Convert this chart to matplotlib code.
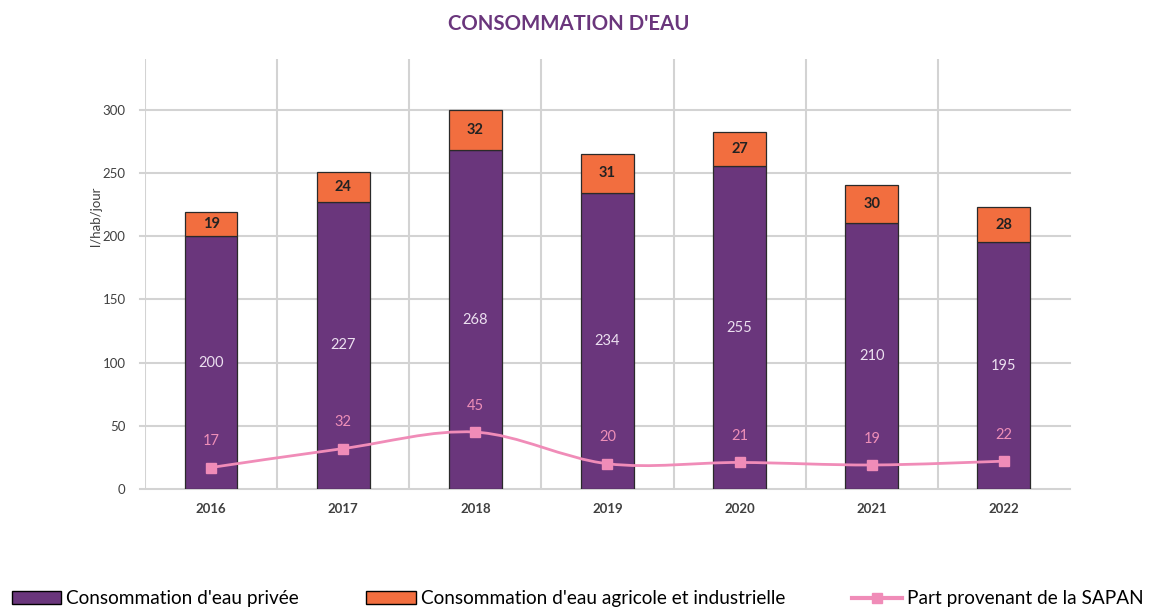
import numpy as np
import matplotlib

matplotlib.use("Agg")
import matplotlib.pyplot as plt
from matplotlib.path import Path
from matplotlib.patches import PathPatch
from matplotlib.lines import Line2D
from matplotlib.patches import Patch

plt.rcParams["font.family"] = ["Lato", "DejaVu Sans"]

# ---------- data ----------
years = ["2016", "2017", "2018", "2019", "2020", "2021", "2022"]
privee = [200, 227, 268, 234, 255, 210, 195]
agricole = [19, 24, 32, 31, 27, 30, 28]
sapan = [17, 32, 45, 20, 21, 19, 22]

purple = "#6a367c"
orange = "#f26e3f"
pink = "#f08cb8"
grid_col = "#d3d3d3"

fig = plt.figure(figsize=(11.49, 6.08), dpi=100)
ax = fig.add_axes([0.1262, 0.1957, 0.8050, 0.7073])

x = np.arange(len(years))
w = 0.40

ax.bar(x, privee, w, color=purple, edgecolor="#2a2a2a", linewidth=0.9, zorder=3)
ax.bar(x, agricole, w, bottom=privee, color=orange, edgecolor="#2a2a2a",
       linewidth=0.9, zorder=3)

# value labels
for xi, p, a in zip(x, privee, agricole):
    ax.text(xi, p / 2, str(p), ha="center", va="center", color="#ece0f0",
            fontsize=10.5, zorder=5)
    ax.text(xi, p + a / 2, str(a), ha="center", va="center", color="#222222",
            fontsize=10.5, fontweight="bold", zorder=5)

# smoothed line (Excel-like bezier through the points)
pts = np.column_stack([x, sapan]).astype(float)
n = len(pts)
verts = [pts[0]]
codes = [Path.MOVETO]
for i in range(n - 1):
    p0 = pts[i - 1] if i > 0 else pts[i]
    p1 = pts[i]
    p2 = pts[i + 1]
    p3 = pts[i + 2] if i + 2 < n else pts[i + 1]
    c1 = p1 + (p2 - p0) / 6
    c2 = p2 - (p3 - p1) / 6
    verts += [c1, c2, p2]
    codes += [Path.CURVE4] * 3
ax.add_patch(PathPatch(Path(verts, codes), fill=False, edgecolor=pink,
                       linewidth=2, zorder=6, transform=ax.transData))
ax.plot(x, sapan, linestyle="none", marker="s", markersize=7,
        color=pink, zorder=7)
for xi, s in zip(x, sapan):
    ax.annotate(str(s), (xi, s), xytext=(0, 19), textcoords="offset points",
                ha="center", va="center", color="#ee8fb8", fontsize=10.5,
                zorder=7)

# axes styling
ax.set_xlim(-0.5, len(years) - 0.5)
ax.set_ylim(0, 340)
ax.set_yticks(range(0, 301, 50))
ax.set_xticks(x)
ax.set_xticklabels(years, fontweight="bold")
ax.tick_params(axis="both", labelsize=9.5, colors="#404040", length=0, pad=10)
ax.tick_params(axis="y", pad=14)
for s in ax.spines.values():
    s.set_visible(False)
for yv in range(0, 301, 50):
    ax.plot([-0.535, len(years) - 0.5], [yv, yv], color=grid_col, lw=1.5,
            zorder=1, clip_on=False)
for xv in np.arange(-0.5, len(years) - 1, 1.0):
    ax.axvline(xv, color=grid_col, lw=1.5, zorder=1)

ax.set_ylabel("l/hab/jour", fontsize=9.5, color="#404040")
ax.yaxis.set_label_coords(-0.046, 0.635)

fig.text(0.495, 0.96, "CONSOMMATION D'EAU", ha="center", va="center",
         color=purple, fontsize=14.7, fontweight="bold")

handles = [
    Patch(facecolor=purple, edgecolor="black", linewidth=1),
    Patch(facecolor=orange, edgecolor="black", linewidth=1),
    Line2D([], [], color=pink, lw=3, marker="s", markersize=7),
]
labels = ["Consommation d'eau privée",
          "Consommation d'eau agricole et industrielle",
          "Part provenant de la SAPAN"]
fig.legend(handles, labels, loc="center left", bbox_to_anchor=(0.002, 0.015),
           ncol=3, frameon=False, fontsize=13.7, handlelength=2.6,
           handleheight=0.7, handletextpad=0.25, columnspacing=3.55,
           borderpad=0)

fig.savefig("out.png", dpi=100)
